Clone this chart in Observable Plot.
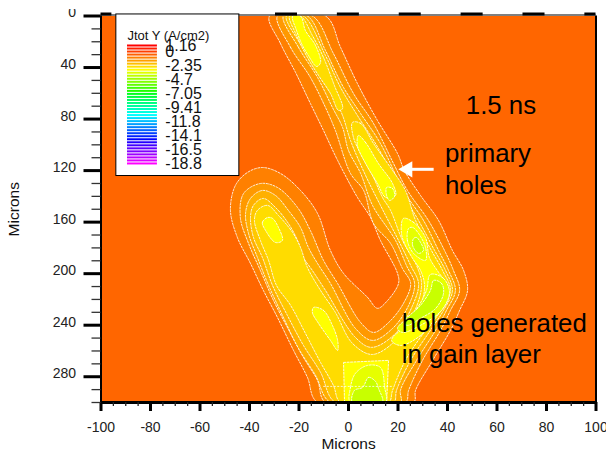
<!DOCTYPE html>
<html>
<head>
<meta charset="utf-8">
<script src="https://cdn.jsdelivr.net/npm/d3@7"></script>
<script src="https://cdn.jsdelivr.net/npm/@observablehq/plot@0.6"></script>
<style>html,body{margin:0;padding:0;background:#fff}</style>
</head>
<body>
<div id="chart"></div>
<script>
// Contour outlines, in microns: [x, y]
const band1 = [[-31.9,0],[-27.5,21.3],[-21.4,43.8],[-15.4,67.9],[-10.1,88.9],[-4.4,112.1],[3.6,140.8],[8.9,156.4],[12.9,174.2],[19.8,199.8],[20.2,207.6],[15.8,220.8],[11.7,226.9],[7.7,218.4],[-2,199.8],[-7.3,182],[-12.5,153.3],[-19.4,135.4],[-27.5,122.2],[-34.8,117.6],[-40.8,121.4],[-45.7,131.5],[-47.7,150.9],[-44.9,171.9],[-39.6,192.1],[-34.4,213],[-28.7,234],[-22.2,259.6],[-16.6,280.5],[-12.5,300],[26.3,300],[27.1,290.6],[34,267.3],[41.2,244],[44.9,228.5],[48.1,213],[46.5,197.5],[42,182],[36.4,158.7],[29.1,139.3],[22.6,119.9],[19.8,106.7],[11.7,81.1],[3.6,52.4],[-3.2,24.4],[-9.3,0]];
const band2 = [[-28.7,0],[-23.4,24.4],[-15.4,47.7],[-9.3,71],[-5.3,88.9],[0.8,122.2],[6.1,135.4],[10.1,161],[17,176.5],[21.8,196],[25.1,207.6],[22.2,223.1],[16.2,237.9],[10.1,245.6],[4.9,237.9],[-4.4,207.6],[-10.1,189.7],[-15.4,166.5],[-20.6,148.6],[-28.7,133.1],[-35.6,130],[-42.4,137.8],[-43.7,156.4],[-40.4,176.5],[-35.6,197.5],[-30.3,220.8],[-24.7,241.7],[-18.2,265],[-12.5,282.9],[-9.3,300],[23,300],[24.3,290.6],[29.9,267.3],[37.2,244],[41.2,228.5],[44.9,213],[42.4,197.5],[38.8,182],[32.3,158.7],[23.8,135.4],[18.2,114.5],[10.1,83.4],[2,60.1],[-6.1,29.1],[-14.6,0]];
const band3 = [[-26.3,0],[-20.2,24.4],[-12.5,47.7],[-6.5,71],[-2.4,86.5],[0,104.4],[4.9,122.2],[9.7,147],[19,174.2],[23.4,193.6],[26.7,207.6],[24.3,224.6],[17.8,242.5],[9.7,251.8],[2.8,242.5],[-7.3,207.6],[-12.5,192.1],[-16.2,179.6],[-19.4,164.1],[-24.3,150.9],[-29.5,139.3],[-34.8,135.4],[-39.6,141.6],[-41.6,153.3],[-40.4,168.8],[-36.8,187.4],[-32.3,209.1],[-26.7,232.4],[-20.2,258],[-13.3,279],[-7.3,300],[21,300],[21,290.6],[27.5,267.3],[35.2,244],[39.6,228.5],[43.2,213],[40.4,197.5],[36.4,182],[30.3,158.7],[22.2,135.4],[12.9,98.9],[4.9,75.7],[-2,55.5],[-9.3,26.8],[-16.6,0]];
const band4 = [[-25.1,0],[-18.6,24.4],[-11.3,47.7],[-5.3,65.6],[-2.4,77.2],[0.8,96.6],[6.9,123.8],[12.9,147],[20.2,174.2],[25.1,193.6],[28.3,207.6],[25.9,224.6],[19,246.4],[9.3,257.2],[2.8,249.5],[-9.3,213],[-14.6,197.5],[-18.2,187.4],[-20.6,174.2],[-24.3,161],[-29.5,148.6],[-34.4,141.6],[-38.4,147],[-39.6,156.4],[-38.4,171.9],[-34.8,187.4],[-30.7,209.1],[-24.7,232.4],[-18.2,255.7],[-11.3,276.6],[-5.3,300],[18.2,300],[19.4,290.6],[25.1,267.3],[33.1,244],[38.4,228.5],[42,213],[39.2,197.5],[34.8,182],[28.3,158.7],[21,135.4],[12.1,102.8],[3.6,77.2],[-3.2,55.5],[-9.3,30.7],[-18.2,0]];
const band5top = [[-23.8,0],[-19.4,0],[-14.6,15.1],[-10.1,32.2],[-5.7,53.9],[-2.4,71.8],[-4,73.3],[-7.3,60.1],[-12.1,46.2],[-16.6,32.2],[-21,15.1]];
const band5main = [[1.6,82.6],[4.9,83.4],[10.1,98.9],[17.8,119.9],[23,135.4],[27.1,158.7],[33.5,182],[38,197.5],[41.2,213],[37.2,228.5],[31.1,244],[23,267.3],[17.8,290.6],[16.2,300],[-3.2,300],[-6.1,286.7],[-11.3,268.9],[-17.4,246.4],[-23.4,224.6],[-29.1,209.1],[-32.3,189.7],[-35.6,174.2],[-38,158.7],[-36.8,150.9],[-32.7,147],[-28.3,154.8],[-22.6,168],[-19.4,179.6],[-16.6,195.2],[-11.3,213],[-5.3,230.1],[1.6,254.1],[9.7,262.7],[20.2,249.5],[27.5,225.4],[29.5,207.6],[27.5,193.6],[21.8,174.2],[17,150.9],[13.7,140.8],[10.1,125.3],[4.9,106.7],[2,94.3]];
const band6top = [[-22.6,0],[-19.4,0],[-17.4,11.3],[-13.3,22.9],[-11.3,36.1],[-12.9,39.2],[-16.2,30.7],[-18.6,22.9],[-21,11.3]];
const band6upper = [[4,92.7],[6.9,98.2],[12.1,114.5],[17.8,130],[19,139.3],[15,140.8],[11.7,130],[6.9,114.5],[3.6,100.5]];
const band6right = [[22.2,157.1],[26.3,160.2],[31.1,171.9],[32.7,187.4],[36.4,199],[40,209.1],[40.4,219.2],[36,232.4],[29.1,248],[21,255.7],[17.4,251.8],[23,240.1],[29.1,224.6],[30.7,209.1],[29.1,197.5],[25.9,188.2],[23,178.1],[21.4,168.8]];
const band6peak = [[-32.7,156.4],[-34.8,160.2],[-33.5,166.5],[-29.5,175.8],[-26.7,174.2],[-28.3,164.1],[-30.7,157.1]];
const band6mid = [[-14.1,226.2],[-10.1,228.5],[-6.5,240.1],[-4.4,251.8],[-4.4,259.6],[-7.3,251.8],[-12.1,238.6],[-14.6,230.1]];
const band6box = [[-2,268.9],[16.2,267.3],[15.4,300],[-1.6,300]];
const band7bottom = [[0.8,300],[0.8,288.3],[2.8,277.4],[7.7,271.2],[12.9,272.8],[14.6,288.3],[15,300]];
const band7upper = [[15.4,133.1],[17.8,133.9],[18.6,140],[16.6,143.2],[15.4,139.3]];
const band7peak = [[24.3,164.9],[23.8,174.2],[26.3,184.3],[31.1,189.7],[31.1,179.6],[28.3,168.8],[25.9,164.1]];
const band7lower = [[33.1,200.6],[38.4,203.7],[40.8,214.6],[37.6,228.5],[29.1,240.1],[21.8,245.6],[19.8,242.5],[27.1,228.5],[31.5,213]];
const band8peak = [[26.3,172.7],[25.9,178.1],[28.3,184.3],[30.3,181.9],[29.1,175.8],[27.5,171.9]];
const band8lower = [[34.4,205.2],[37.6,207.6],[38.4,215.3],[35.2,227],[29.1,234.7],[23.8,240.1],[22.2,237.9],[29.1,224.6],[33.1,213]];
const band8bottom = [[5.7,288.3],[8.1,280.5],[10.9,283.6],[12.1,289],[13.7,300],[1.6,300],[2.4,290.6]];

const bandColors = ["#ff8000","#ff9900","#ffb000","#ffc800","#ffdc00","#ffff00","#e6ff00","#c8ff00"];
const regions = [
  [band1,0],[band2,1],[band3,2],[band4,3],[band5top,4],[band5main,4],
  [band6top,5],[band6upper,5],[band6right,5],[band6peak,5],[band6mid,5],[band6box,5,"linear-closed"],
  [band7bottom,6],[band7upper,6],[band7peak,6],[band7lower,6],
  [band8peak,7],[band8lower,7],[band8bottom,7]
];

// Legend
const legendTitle = "Jtot Y (A/cm2)";
const legendValues = [1.16,0,-2.35,-4.7,-7.05,-9.41,-11.8,-14.1,-16.5,-18.8];
const legendColors = ["#ff0000","#ff2000","#ff4000","#ff6000","#ff8000","#ff9f00","#ffbf00","#ffdf00","#ffff00","#dfff00","#bfff00","#9fff00","#80ff00","#60ff00","#40ff00","#20ff00","#00ff20","#00ff40","#00ff60","#00ff80","#00ff9f","#00ffbf","#00ffdf","#00ffff","#00dfff","#00bfff","#009fff","#0080ff","#0060ff","#0040ff","#0020ff","#0000ff","#2000ff","#4000ff","#6000ff","#8000ff","#9f00ff","#bf00ff","#df00ff","#ff00ff"];
const legendY = v => 22.9 + (1.16 - v) * 4.587;

// Axes
const xMajor = [-100,-80,-60,-40,-20,0,20,40,60,80,100];
const xMinor = [-95,-90,-85,-75,-70,-65,-55,-50,-45,-35,-30,-25,-15,-10,-5,5,10,15,25,30,35,45,50,55,65,70,75,85,90,95];
const yMajor = [0,40,80,120,160,200,240,280];
const yMinor = [10,20,30,50,60,70,90,100,110,130,140,150,170,180,190,210,220,230,250,260,270,290,300];
const topBars = [[-100,-95.6],[-4.5,4.4],[20.5,29.4],[-29.5,-20.6],[45.5,54.4],[70.5,79.4],[95.5,100]];
const noLabel = () => "";

// Annotations
const notes = [
  {t:"1.5 ns",x:47.4,y:69.4},
  {t:"primary",x:39,y:106.7},
  {t:"holes",x:39,y:131.5},
  {t:"holes generated",x:21.5,y:238.6},
  {t:"in gain layer",x:21.5,y:262.7}
];
const arrowRow = [{x1:34.4,x2:24,y:119}];
const arrowHead = [{x:23.9,y:119}];
const legendBox = [{x1:-93.8,x2:-44.1,y1:-1.2,y2:124.2}];
const axisTitles = [{t:"Microns",x:0,y:332,r:0},{t:"Microns",x:-135,y:150,r:-90}];
const zeroClip = [{x1:-125,x2:-104,y1:-14,y2:-5}];

const chart = Plot.plot({
  width:606, height:455,
  marginLeft:100.5, marginRight:10.5, marginTop:15.5, marginBottom:53,
  style:{fontFamily:"'Liberation Sans',Arial,sans-serif",background:"#fff",overflow:"visible"},
  x:{domain:[-100,100]},
  y:{domain:[0,300],reverse:true},
  marks:[
    Plot.frame({fill:"#ff6600"}),
    ...regions.map(([pts,lvl,curve]) => Plot.line(pts,{
      x:d=>d[0], y:d=>d[1], fill:bandColors[lvl],
      stroke:"#fff", strokeWidth:1, strokeOpacity:0.85, strokeDasharray:"2 1.5",
      curve:curve||"catmull-rom-closed", clip:true
    })),
    Plot.ruleY([287.5],{x1:-10,x2:18,stroke:"#fff",strokeDasharray:"2 1.5",strokeOpacity:0.8}),
    // frame lines
    Plot.ruleY([0],{stroke:"#555",strokeWidth:1.5,dy:-1}),
    Plot.ruleY(topBars,{y:()=>0,x1:d=>d[0],x2:d=>d[1],stroke:"#000",strokeWidth:3,dy:-2}),
    Plot.ruleX([-100],{stroke:"#000",strokeWidth:2}),
    Plot.ruleX([100],{stroke:"#000",strokeWidth:2}),
    Plot.ruleY([300],{stroke:"#000",strokeWidth:3}),
    // ticks
    Plot.axisX({ticks:xMinor,tickSize:4,tickFormat:noLabel,label:null,stroke:"#222",strokeWidth:1.3}),
    Plot.axisX({ticks:xMajor,tickSize:9,tickFormat:noLabel,label:null,stroke:"#000",strokeWidth:3}),
    Plot.axisX({ticks:xMajor,tickSize:0,tickPadding:20,tickFormat:d=>String(d),label:null,fontSize:14,fill:"#222",style:{letterSpacing:"0.6px"}}),
    Plot.axisY({ticks:yMinor,tickSize:9,tickFormat:noLabel,label:null,stroke:"#333",strokeWidth:1.3}),
    Plot.axisY({ticks:yMajor,tickSize:17,tickFormat:noLabel,label:null,stroke:"#000",strokeWidth:3}),
    Plot.axisY({ticks:yMajor,tickSize:0,tickPadding:25,dy:-3,tickFormat:d=>String(d),label:null,fontSize:14,fill:"#222",style:{letterSpacing:"0.6px"}}),
    Plot.rect(zeroClip,{x1:d=>d.x1,x2:d=>d.x2,y1:d=>d.y1,y2:d=>d.y2,fill:"#fff"}),
    Plot.text(axisTitles,{x:d=>d.x,y:d=>d.y,text:d=>d.t,rotate:d=>d.r,fontSize:15.5,fill:"#111"}),
    // legend
    Plot.rect(legendBox,{x1:d=>d.x1,x2:d=>d.x2,y1:d=>d.y1,y2:d=>d.y2,fill:"#fff",stroke:"#000",strokeWidth:1}),
    Plot.ruleY(legendColors,{y:(d,i)=>legendY(1.16-i*0.5118),x1:()=>-89.3,x2:()=>-77.2,stroke:d=>d,strokeWidth:2}),
    Plot.text([legendTitle],{x:()=>-89.3,y:()=>15.1,text:d=>d,textAnchor:"start",fontSize:13,fill:"#111",style:{letterSpacing:"0.2px"}}),
    Plot.text(legendValues,{x:()=>-74,y:d=>legendY(d),text:d=>String(d),textAnchor:"start",fontSize:16,fill:"#111",style:{letterSpacing:"0.9px"}}),
    // annotations
    Plot.text(notes,{x:d=>d.x,y:d=>d.y,text:d=>d.t,textAnchor:"start",fontSize:25.8,fill:"#000"}),
    Plot.link(arrowRow,{x1:d=>d.x1,x2:d=>d.x2,y1:d=>d.y,y2:d=>d.y,stroke:"#fff",strokeWidth:3}),
    Plot.dot(arrowHead,{x:d=>d.x,y:d=>d.y,symbol:"triangle",r:6,rotate:-90,fill:"#fff",stroke:"none"})
  ]
});
document.getElementById("chart").appendChild(chart);
</script>
</body>
</html>
